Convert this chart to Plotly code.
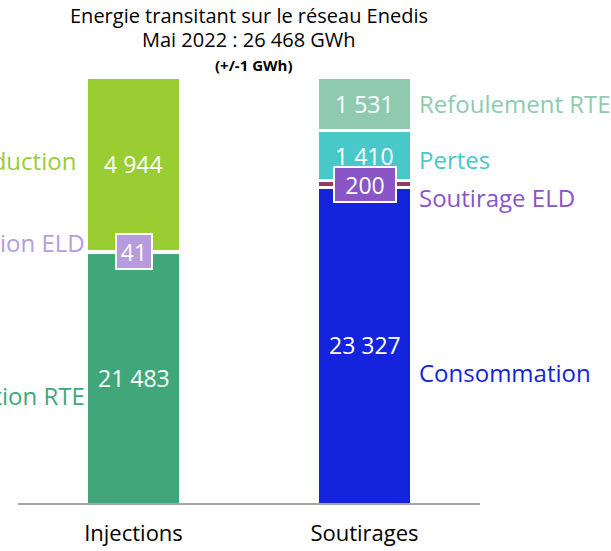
import plotly.graph_objects as go

categories = ["Injections", "Soutirages"]

# Injections (GWh), bottom to top
inj_rte = 21483
inj_eld = 41
production = 4944
# Soutirages (GWh), bottom to top
consommation = 23327
sout_eld = 200
pertes = 1410
refoulement = 1531

total = inj_rte + inj_eld + production  # 26 468
y_min = 14380  # truncated value axis, as in the reference

FONT = "Open Sans"


def fmt(v):
    return f"{v:,}".replace(",", " ")


C_RTE = "#41A77B"
C_ELD_INJ = "#B69CDE"
C_PROD = "#9ACD32"
C_CONSO = "#1423DC"
C_SELD_BAND = "#8D3F63"
C_SELD = "#8955C7"
C_PERTES = "#48C8C8"
C_REF = "#8FCAB0"

fig = go.Figure()


def add(xcat, val, color):
    fig.add_trace(go.Bar(
        x=[xcat], y=[val],
        marker=dict(color=color, line=dict(color="white", width=3)),
        width=0.407,
        hoverinfo="skip",
        showlegend=False,
    ))


add(categories[0], inj_rte, C_RTE)
add(categories[0], inj_eld, C_ELD_INJ)
add(categories[0], production, C_PROD)
add(categories[1], consommation, C_CONSO)
add(categories[1], sout_eld, C_SELD_BAND)
add(categories[1], pertes, C_PERTES)
add(categories[1], refoulement, C_REF)

ann = []


def value_label(xcat, lo, hi, val):
    lo = max(lo, y_min)
    ann.append(dict(x=xcat, y=(lo + hi) / 2, xref="x", yref="y", text=fmt(val),
                    showarrow=False, yanchor="middle",
                    font=dict(color="white", size=23, family=FONT)))


value_label(categories[0], 0, inj_rte, inj_rte)
value_label(categories[0], inj_rte + inj_eld, total, production)
value_label(categories[1], 0, consommation, consommation)
value_label(categories[1], consommation + sout_eld, consommation + sout_eld + pertes, pertes)
value_label(categories[1], consommation + sout_eld + pertes, total, refoulement)

# boxed value labels for the thin ELD segments
ann.append(dict(x=categories[0], y=inj_rte + inj_eld / 2, xref="x", yref="y",
                text=fmt(inj_eld), showarrow=False, yanchor="middle",
                font=dict(color="white", size=23, family=FONT),
                bgcolor=C_ELD_INJ, bordercolor="white", borderwidth=2, borderpad=1,
                width=32, height=31))
ann.append(dict(x=categories[1], y=consommation + sout_eld / 2, xref="x", yref="y",
                text=fmt(sout_eld), showarrow=False, yanchor="middle",
                font=dict(color="white", size=23, family=FONT),
                bgcolor=C_SELD, bordercolor="white", borderwidth=2, borderpad=1,
                width=58, height=31))

# category labels (left ones run off the page edge, as in the reference)
left_labels = [("Production", C_PROD, 24108, 0.130),
               ("Injection ELD", C_ELD_INJ, 21783, 0.149),
               ("Injection RTE", C_RTE, 17444, 0.149)]
for t, c, y, x in left_labels:
    ann.append(dict(x=x, y=y, xref="paper", yref="y", text=t, showarrow=False,
                    xanchor="right", yanchor="middle",
                    font=dict(color=c, size=24, family=FONT)))

right_labels = [("Refoulement RTE", C_REF, 25725),
                ("Pertes", C_PERTES, 24137),
                ("Soutirage ELD", C_SELD, 23045),
                ("Consommation", C_CONSO, 18096)]
for t, c, y in right_labels:
    ann.append(dict(x=0.863, y=y, xref="paper", yref="y", text=t, showarrow=False,
                    xanchor="left", yanchor="middle",
                    font=dict(color=c, size=24, family=FONT)))

# titles
ann.append(dict(x=0.5, y=1.1455, xref="paper", yref="paper", yanchor="middle",
                text="Energie transitant sur le réseau Enedis", showarrow=False,
                font=dict(color="black", size=20, family=FONT)))
ann.append(dict(x=0.5, y=1.0880, xref="paper", yref="paper", yanchor="middle",
                text=f"Mai 2022 : {fmt(total)} GWh", showarrow=False,
                font=dict(color="black", size=20, family=FONT)))
ann.append(dict(x=0.51, y=1.0270, xref="paper", yref="paper", yanchor="middle",
                text="<b>(+/-1 GWh)</b>", showarrow=False,
                font=dict(color="black", size=15, family=FONT)))

fig.update_layout(
    width=611, height=551,
    margin=dict(l=18, r=131, t=77, b=48, autoexpand=False),
    barmode="stack",
    plot_bgcolor="white", paper_bgcolor="white",
    annotations=ann,
    font=dict(family=FONT),
)
fig.update_xaxes(range=[-0.5, 1.5], showline=True, linecolor="#A6A6A6", linewidth=2,
                 ticks="", showgrid=False, zeroline=False, automargin=False,
                 tickfont=dict(color="black", size=22, family=FONT),
                 ticklabelstandoff=10)
fig.update_yaxes(range=[y_min, total], showline=False, showgrid=False, zeroline=False,
                 showticklabels=False, automargin=False)

fig.write_html("out.html", config={"displayModeBar": False},
               post_script="document.body.style.margin='0';")
